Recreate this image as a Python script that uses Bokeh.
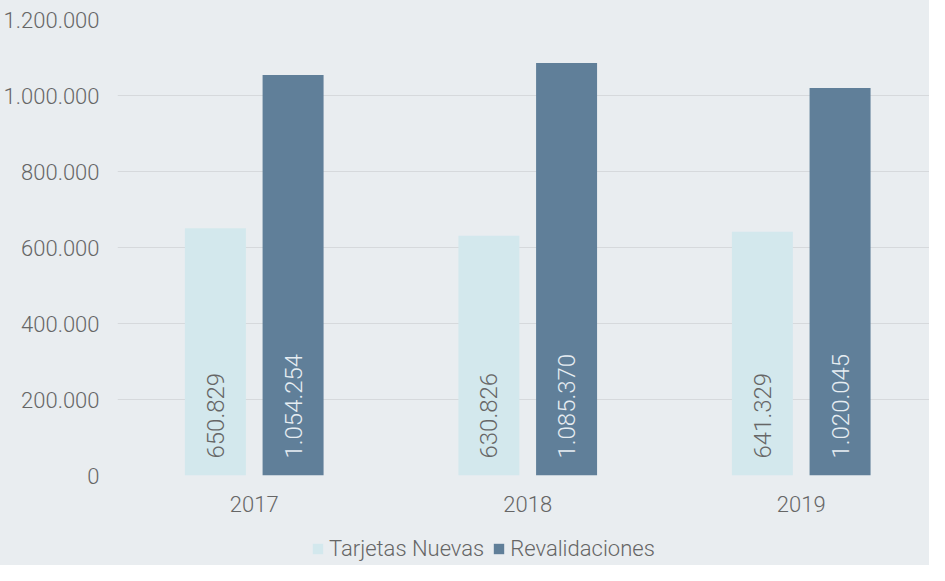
import math
from bokeh.plotting import figure
from bokeh.layouts import column
from bokeh.models import ColumnDataSource, Range1d, FixedTicker, Legend, LegendItem
from bokeh.core.properties import value
from bokeh.transform import dodge
from bokeh.embed import file_html
from bokeh.resources import INLINE

years = ["2017", "2018", "2019"]
tarjetas_nuevas = [650829, 630826, 641329]
revalidaciones = [1054254, 1085370, 1020045]
y_ticks = [0, 200000, 400000, 600000, 800000, 1000000, 1200000]
series_names = ["Tarjetas Nuevas", "Revalidaciones"]

FONT = "Roboto Light"
BG = "#e9edf0"
LIGHT = "#d3e8ed"
DARK = "#607f99"
TXT = "#666666"

def fmt(v):
    return f"{v:,}".replace(",", ".")

xs = list(range(len(years)))
src = ColumnDataSource(dict(
    x=xs,
    tn=tarjetas_nuevas,
    rv=revalidaciones,
    tn_lbl=[fmt(v) for v in tarjetas_nuevas],
    rv_lbl=[fmt(v) for v in revalidaciones],
    zero=[0] * len(xs),
))

p = figure(width=929, height=530, output_backend="svg", toolbar_location=None,
           x_range=Range1d(-0.5, 2.469), y_range=Range1d(0, 1200000),
           min_border_left=117, min_border_right=0, min_border_top=19, min_border_bottom=55)
p.background_fill_color = BG
p.border_fill_color = BG
p.outline_line_color = None
p.styles = {"background-color": BG}

bw = 0.223
off = 0.142
r1 = p.vbar(x=dodge("x", -off, range=p.x_range), top="tn", width=bw, source=src,
            fill_color=LIGHT, line_color=None)
r2 = p.vbar(x=dodge("x", off, range=p.x_range), top="rv", width=bw, source=src,
            fill_color=DARK, line_color=None)

p.text(x=dodge("x", -off, range=p.x_range), y="zero", text="tn_lbl", source=src,
       angle=math.pi / 2, text_align="left", text_baseline="middle", y_offset=-17,
       text_font=value(FONT), text_font_size="24px", text_color=TXT)
p.text(x=dodge("x", off, range=p.x_range), y="zero", text="rv_lbl", source=src,
       angle=math.pi / 2, text_align="left", text_baseline="middle", y_offset=-17,
       text_font=value(FONT), text_font_size="24px", text_color="#e6edf2")

p.xgrid.grid_line_color = None
p.ygrid.grid_line_color = "#d6d9dc"
p.ygrid.grid_line_width = 1
p.ygrid.ticker = FixedTicker(ticks=y_ticks)

p.yaxis.ticker = FixedTicker(ticks=y_ticks)
p.yaxis.major_label_overrides = {t: fmt(t) for t in y_ticks}
p.xaxis.ticker = FixedTicker(ticks=xs)
p.xaxis.major_label_overrides = {i: y for i, y in zip(xs, years)}

for ax in (p.xaxis[0], p.yaxis[0]):
    ax.axis_line_color = None
    ax.major_tick_line_color = None
    ax.minor_tick_line_color = None
    ax.major_label_text_font = FONT
    ax.major_label_text_font_size = "22px"
    ax.major_label_text_color = TXT
p.yaxis.major_label_standoff = 12
p.xaxis.major_label_standoff = 14

# legend strip below the chart (its ranges keep the bars out of view, past the right edge)
pl = figure(width=929, height=35, output_backend="svg", toolbar_location=None,
            x_range=Range1d(-11, -10), y_range=Range1d(0, 1),
            x_axis_type=None, y_axis_type=None, min_border=0)
pl.background_fill_color = BG
pl.border_fill_color = BG
pl.outline_line_color = None
pl.grid.grid_line_color = None
pl.styles = {"background-color": BG}
l1 = pl.vbar(x="x", top="tn", width=bw, source=src, fill_color=LIGHT, line_color=None)
l2 = pl.vbar(x="x", top="rv", width=bw, source=src, fill_color=DARK, line_color=None)

legend = Legend(items=[LegendItem(label=series_names[0], renderers=[l1]),
                       LegendItem(label=series_names[1], renderers=[l2])],
                location=(194, 4), orientation="horizontal",
                glyph_width=13, glyph_height=13, label_standoff=5, spacing=8,
                padding=0, margin=0, background_fill_alpha=0, border_line_color=None,
                label_text_font=FONT, label_text_font_size="22px", label_text_color=TXT)
pl.add_layout(legend, "center")

layout = column(p, pl, spacing=0)
layout.styles = {"background-color": BG}
open("out.html", "w").write(file_html(layout, INLINE))
